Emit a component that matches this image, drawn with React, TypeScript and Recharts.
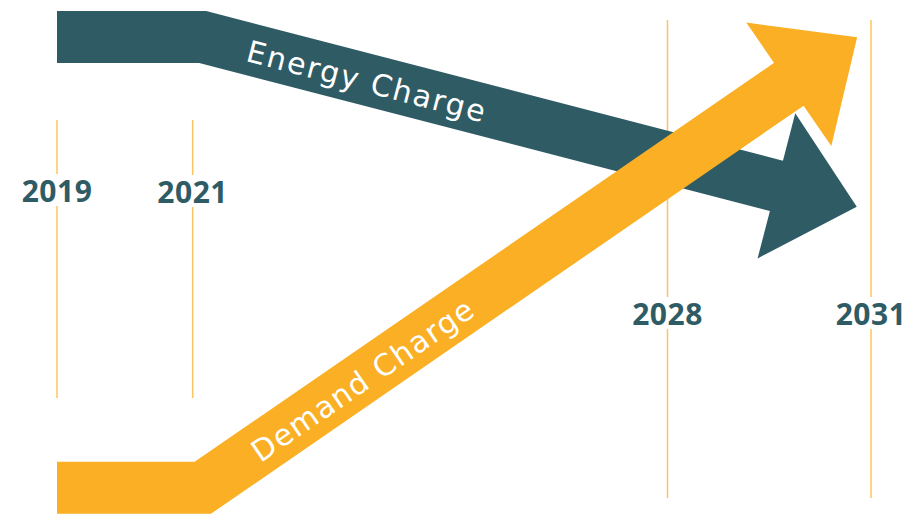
import React from "react";
import { LineChart, Line, XAxis, YAxis, ReferenceLine } from "recharts";

const TEAL = "#2f5b65";
const ORANGE = "#fbaf24";
const GUIDE = "#fcc45e";
const FONT = "'Open Sans', 'DejaVu Sans', sans-serif";
const BAND_FONT = "'DejaVu Sans', 'Open Sans', sans-serif";

// timeline milestones
const milestoneYears = [2019, 2021, 2028, 2031];
const milestoneLabels = ["2019", "2021", "2028", "2031"];

// relative weight of each charge over time (index, 0-100)
const energyYears = [2019, 2021.15, 2029.62];
const energyLevel = [92.8, 92.8, 63.8];
const demandYears = [2019, 2021.15, 2029.8];
const demandLevel = [5.1, 5.1, 83.7];

const energyData = energyYears.map((year, i) => ({ year, level: energyLevel[i] }));
const demandData = demandYears.map((year, i) => ({ year, level: demandLevel[i] }));

const W = 913;
const H = 514;
const BAND = 52;
const HEAD_LEN = 82;
const HEAD_HALF = 75;

// vertical extent of each guide line, and baseline of its year label
const GUIDE_SPAN = [
  { top: 120, bottom: 398, base: 202 },
  { top: 120, bottom: 398, base: 203 },
  { top: 20, bottom: 498, base: 325 },
  { top: 20, bottom: 498, base: 325 },
];

function arrowDot(color: string, label: string, labelAt: number, labelLen: number) {
  return (props: any) => {
    const { index, points } = props;
    if (!points || points.length < 2) return <g key={`d-${index}`} />;
    const n = points.length;

    if (index === 1 && n > 2) {
      const a = points[1];
      const b = points[2];
      const px = a.x + (b.x - a.x) * labelAt;
      const py = a.y + (b.y - a.y) * labelAt;
      const deg = (Math.atan2(b.y - a.y, b.x - a.x) * 180) / Math.PI;
      return (
        <text
          key={`d-${index}`}
          x={px}
          y={py}
          dy={2}
          transform={`rotate(${deg} ${px} ${py})`}
          textAnchor="middle"
          dominantBaseline="central"
          fill="#fff"
          fontFamily={BAND_FONT}
          fontSize={30}
          textLength={labelLen}
          lengthAdjust="spacing"
        >
          {label}
        </text>
      );
    }

    if (index === n - 1) {
      const a = points[n - 2];
      const b = points[n - 1];
      const len = Math.hypot(b.x - a.x, b.y - a.y);
      const dx = (b.x - a.x) / len;
      const dy = (b.y - a.y) / len;
      const bx = b.x - dx;
      const by = b.y - dy;
      const tip = [b.x + dx * HEAD_LEN, b.y + dy * HEAD_LEN];
      const l = [bx - dy * HEAD_HALF, by + dx * HEAD_HALF];
      const r = [bx + dy * HEAD_HALF, by - dx * HEAD_HALF];
      return (
        <polygon
          key={`d-${index}`}
          points={`${l[0]},${l[1]} ${tip[0]},${tip[1]} ${r[0]},${r[1]}`}
          fill={color}
          stroke="none"
        />
      );
    }
    return <g key={`d-${index}`} />;
  };
}

function guide(i: number) {
  const span = GUIDE_SPAN[i];
  return (props: any) => {
    const x = props.x1;
    return (
      <g>
        <line x1={x} x2={x} y1={span.top} y2={span.base - 28} stroke={GUIDE} strokeWidth={1.5} />
        <line x1={x} x2={x} y1={span.base + 4} y2={span.bottom} stroke={GUIDE} strokeWidth={1.5} />
        <text
          x={x}
          y={span.base}
          textAnchor="middle"
          fill={TEAL}
          fontFamily={FONT}
          fontWeight={700}
          fontSize={30}
          letterSpacing={0.5}
        >
          {milestoneLabels[i]}
        </text>
      </g>
    );
  };
}

export default function App() {
  return (
    <div style={{ position: "absolute", left: 0, top: 0, width: W, height: H, background: "#fff" }}>
      <LineChart width={W} height={H} margin={{ top: 0, right: 42, bottom: 0, left: 57 }}>
        <XAxis dataKey="year" type="number" domain={[2019, 2031]} hide />
        <YAxis type="number" domain={[0, 100]} hide />
        {milestoneYears.map((y, i) => (
          <ReferenceLine key={y} x={y} zIndex={-10} shape={guide(i)} />
        ))}
        <Line
          data={energyData}
          dataKey="level"
          type="linear"
          stroke={TEAL}
          strokeWidth={BAND}
          strokeLinejoin="miter"
          strokeLinecap="butt"
          dot={arrowDot(TEAL, "Energy Charge", 0.285, 245)}
          activeDot={false}
          isAnimationActive={false}
        />
        <Line
          data={demandData}
          dataKey="level"
          type="linear"
          stroke={ORANGE}
          strokeWidth={BAND}
          strokeLinejoin="miter"
          strokeLinecap="butt"
          dot={arrowDot(ORANGE, "Demand Charge", 0.27, 262)}
          activeDot={false}
          isAnimationActive={false}
        />
      </LineChart>
    </div>
  );
}
